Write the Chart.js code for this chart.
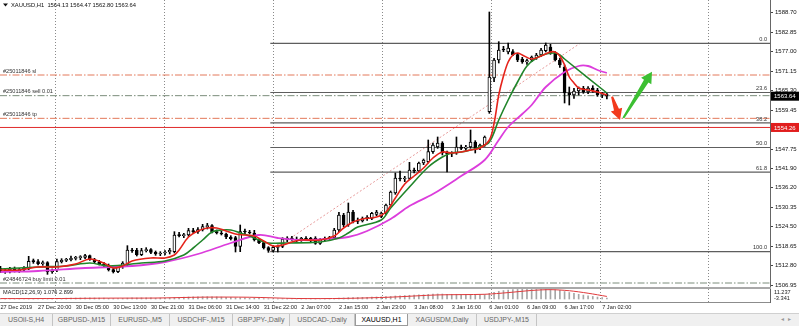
<!DOCTYPE html>
<html>
<head>
<meta charset="utf-8">
<script src="https://cdn.jsdelivr.net/npm/chart.js@4.4.0/dist/chart.umd.min.js"></script>
<style>
body { margin: 0; width: 799px; height: 326px; overflow: hidden; position: relative; background: #fff; font-family: "Liberation Sans", Arial, sans-serif; }
canvas { position: absolute; left: 0; }
#main { top: 0; }
#macd { top: 284px; }
#sep { position: absolute; left: 0; top: 287px; width: 771px; height: 2px; background: #a8a8a8; }
#tabs { position: absolute; left: 0; top: 313px; width: 799px; height: 13px; background: #f0f0f0; border-top: 1px solid #d0d0d0; box-sizing: border-box; }
.tab { position: absolute; top: 0; height: 12px; line-height: 11px; font-size: 7px; color: #666; text-align: center; border-right: 1px solid #c4c4c4; box-sizing: border-box; white-space: nowrap; }
.tab.on { background: #fff; color: #000; border: 1px solid #9a9a9a; border-top: none; }
#nav { position: absolute; right: 4px; top: 1px; font-size: 6px; color: #999; letter-spacing: 4px; }
</style>
</head>
<body>
<canvas id="main" width="799" height="288"></canvas>
<canvas id="macd" width="799" height="29"></canvas>
<div id="sep"></div>
<div id="tabs"><span id="nav">◂▸</span></div>
<script>
// ---- candles (H1), index 0 = 27 Dec 20:00
const firstIdx = -8;
const opens  = [1512.0,1511.2,1511.0,1511.8,1511.3,1511.5,1512.0,1514.1,1514.0,1513.4,1513.7,1511.0,1511.5,1514.0,1514.4,1514.6,1515.0,1515.2,1515.3,1515.8,
  1514.6,1513.9,1513.3,1512.9,1511.6,1511.0,1512.5,1513.0,1517.5,1517.4,1516.1,1517.3,1517.6,1516.8,1516.3,1516.6,1516.9,1517.0,1522.0,1521.8,
  1522.0,1523.3,1523.0,1523.6,1524.5,1524.8,1523.0,1522.6,1522.3,1521.4,1521.2,1518.6,1523.0,1522.9,1522.6,1520.6,1519.7,1518.2,1517.4,1518.3,
  1518.6,1520.5,1521.1,1520.8,1520.5,1521.0,1520.4,1521.0,1519.5,1520.6,1521.0,1521.2,1523.5,1528.0,1525.0,1528.9,1526.1,1526.2,1526.9,1527.0,
  1528.2,1527.6,1528.6,1531.0,1534.6,1539.1,1538.8,1539.0,1541.5,1541.2,1543.6,1544.0,1547.0,1548.4,1549.6,1546.6,1546.3,1546.6,1548.4,1548.0,
  1548.4,1549.9,1548.1,1549.0,1559.0,1569.1,1574.5,1577.8,1576.9,1577.0,1576.1,1574.8,1573.9,1574.5,1575.1,1576.0,1577.3,1578.4,1576.6,1574.5,
  1572.4,1564.6,1564.0,1565.2,1566.0,1564.9,1566.1,1565.5,1564.0,1564.13];
const highs  = [1512.6,1512.0,1512.3,1512.4,1512.0,1512.5,1515.6,1514.8,1514.6,1514.2,1514.0,1511.8,1514.8,1514.9,1515.0,1515.7,1515.6,1515.8,1516.2,1516.0,
  1515.0,1514.4,1513.8,1513.3,1512.0,1512.9,1514.0,1518.8,1518.0,1518.0,1518.0,1518.2,1517.9,1517.2,1517.0,1517.3,1518.0,1523.0,1522.8,1522.5,
  1524.0,1524.0,1524.2,1525.2,1525.5,1525.1,1523.5,1523.2,1522.6,1521.8,1521.6,1525.0,1523.8,1523.4,1523.4,1520.9,1520.0,1518.5,1518.8,1519.0,
  1521.2,1521.5,1521.6,1521.4,1521.3,1521.5,1521.3,1521.5,1520.9,1521.4,1521.6,1524.0,1528.8,1528.5,1531.6,1529.4,1527.1,1527.4,1527.8,1528.8,
  1529.4,1528.9,1531.3,1535.2,1540.6,1541.2,1539.6,1543.8,1542.1,1543.9,1544.8,1550.5,1549.6,1551.4,1550.0,1547.2,1547.0,1551.4,1549.0,1548.9,
  1553.5,1550.3,1549.3,1551.7,1588.9,1575.0,1580.0,1578.6,1579.6,1577.6,1576.5,1575.3,1574.8,1575.7,1576.5,1578.0,1579.6,1579.2,1577.0,1575.0,
  1573.0,1566.4,1566.0,1566.4,1566.6,1566.5,1566.8,1566.0,1564.8,1564.47];
const lows   = [1510.8,1510.5,1510.6,1510.9,1510.8,1511.0,1511.6,1513.5,1513.0,1512.9,1510.2,1510.5,1511.0,1513.6,1514.0,1514.2,1514.5,1514.6,1514.9,1514.4,
  1513.5,1513.0,1512.5,1511.2,1510.6,1510.7,1512.0,1512.8,1516.8,1515.7,1515.8,1516.9,1516.4,1515.9,1515.8,1516.0,1516.3,1516.6,1521.4,1521.2,
  1521.6,1522.4,1522.5,1523.2,1523.8,1522.6,1522.3,1522.0,1520.9,1520.5,1516.9,1517.0,1522.4,1522.3,1520.2,1519.4,1517.8,1516.8,1516.9,1516.9,
  1518.2,1520.0,1520.4,1520.0,1520.1,1520.4,1520.0,1519.2,1519.2,1520.2,1520.5,1520.9,1523.0,1524.5,1524.6,1525.6,1525.4,1525.9,1526.4,1526.6,
  1527.8,1527.2,1528.2,1530.6,1534.2,1538.2,1538.0,1538.6,1540.6,1540.9,1543.1,1543.6,1546.5,1548.0,1546.0,1540.9,1545.5,1546.2,1547.6,1547.4,
  1548.0,1546.6,1547.6,1548.6,1558.5,1568.0,1573.6,1577.0,1576.3,1575.8,1574.0,1573.5,1573.2,1574.0,1574.7,1575.6,1576.9,1576.2,1574.2,1572.3,
  1561.6,1561.0,1563.0,1564.0,1564.5,1564.4,1564.8,1563.6,1563.2,1562.80];
const closes = [1511.2,1511.0,1511.8,1511.3,1511.5,1512.1,1514.1,1514.0,1513.4,1513.7,1511.0,1511.4,1514.0,1514.4,1514.7,1515.0,1515.2,1515.3,1515.8,1514.6,
  1513.9,1513.3,1512.9,1511.6,1511.0,1512.5,1513.6,1517.5,1517.2,1516.1,1517.3,1517.6,1516.8,1516.3,1516.6,1516.9,1517.4,1522.0,1521.8,1522.0,
  1523.3,1523.0,1523.6,1524.5,1524.8,1523.0,1522.6,1522.3,1521.4,1520.9,1518.6,1523.0,1522.9,1522.6,1520.6,1519.7,1518.2,1517.4,1518.3,1518.6,
  1520.8,1521.1,1520.8,1520.5,1521.0,1520.7,1521.0,1519.5,1520.6,1521.0,1521.2,1523.5,1528.0,1525.0,1528.9,1526.1,1526.5,1526.9,1527.3,1528.5,
  1528.9,1528.6,1531.0,1534.9,1539.1,1538.8,1539.0,1541.5,1541.2,1543.6,1544.5,1547.0,1549.0,1549.6,1546.6,1546.3,1546.6,1548.4,1548.0,1548.4,
  1549.9,1548.1,1549.0,1551.4,1569.4,1574.5,1577.5,1577.5,1578.1,1576.1,1574.5,1573.9,1574.3,1575.4,1576.0,1577.5,1579.0,1576.6,1574.5,1573.0,
  1564.6,1564.0,1565.2,1566.0,1564.9,1566.1,1565.5,1564.0,1564.1,1563.64];

// ---- moving averages
const fastIdx = [-8,-4,0,4,8,11,14,16,18,20,24,27,29,30,32,34,36,38,40,42,44,46,48,50,52,54,56,60,63,65,67,69,72,74,76,78,80,82,84,86,88,90,92,94,96,97,98,99,100,101,102,103,105,107,109,110,111,112,113,114,115,117,119,121];
const fastVal = [1511.5,1511.5,1512.4,1512.4,1513.3,1514.8,1513.6,1512.1,1512.7,1514.2,1515.1,1515.1,1516.0,1517.5,1521.4,1523.2,1524.1,1524.1,1523.2,1522.3,1522.0,1521.7,1520.2,1518.7,1519.0,1519.9,1520.5,1520.5,1521.7,1524.1,1525.9,1526.8,1527.4,1528.9,1533.1,1537.3,1539.7,1542.1,1545.1,1546.9,1546.6,1546.9,1547.5,1548.1,1550.5,1555.5,1564.0,1569.7,1573.9,1576.0,1576.6,1576.0,1574.8,1575.7,1576.9,1576.9,1575.7,1573.0,1569.4,1567.6,1566.1,1565.5,1564.9,1564.0];
const midIdx = [-8,0,6,11,15,22,27,31,33,35,37,39,41,43,45,47,49,53,60,64,66,68,73,75,79,83,86,88,90,92,94,96,98,100,102,104,106,108,110,111,112,121];
const midVal = [1511.8,1512.4,1512.7,1513.6,1512.7,1513.6,1514.2,1516.0,1518.1,1520.5,1522.9,1523.5,1523.5,1522.6,1521.7,1520.5,1519.6,1519.6,1519.9,1521.1,1522.6,1524.4,1526.5,1530.1,1536.4,1542.4,1545.4,1546.6,1546.9,1547.5,1548.4,1549.9,1556.5,1562.5,1567.9,1572.7,1575.1,1576.3,1576.6,1576.0,1574.8,1564.6];
const slowIdx = [-8,0,10,20,27,34,41,47,51,56,61,66,70,75,79,84,90,95,98,100,103,105,108,112,115,117,119,121];
const slowVal = [1510.9,1511.2,1512.1,1512.7,1513.9,1516.3,1519.6,1522.0,1521.1,1520.5,1520.8,1521.4,1523.2,1526.8,1530.7,1534.3,1539.7,1544.5,1550.5,1554.4,1558.3,1561.0,1566.4,1570.9,1572.7,1572.7,1571.5,1570.6];

// ---- MACD(12,26,9)
const macdMain = [0.4,0.3,0.3,0.2,0.2,0.3,0.6,0.7, 0.7,0.7,0.5,0.4,0.6,0.8,0.9,1.0, 1.1,1.2,1.3,1.3,1.2,1.1,1.0,0.8,
  0.6,0.6,0.7,1.0,1.2,1.2,1.3,1.3, 1.2,1.1,1.1,1.1,1.1,1.6,1.9,2.1, 2.3,2.4,2.5,2.6,2.6,2.5,2.4,2.2,
  2.0,1.8,1.4,1.4,1.3,1.2,1.0,0.8, 0.5,0.3,0.2,0.2,0.3,0.4,0.4,0.4, 0.4,0.4,0.4,0.3,0.3,0.3,0.4,0.6,
  1.1,1.2,1.6,1.7,1.8,1.9,2.0,2.2, 2.3,2.4,2.6,2.9,3.4,3.7,3.9,4.2, 4.4,4.6,4.8,5.2,5.5,5.7,5.6,5.4,
  5.3,5.3,5.2,5.2,5.2,5.1,5.0,5.1, 6.4,7.6,8.7,9.5,10.1,10.5,10.8,10.9, 10.9,10.8,10.8,10.9,11.0,10.8,10.3,9.7,
  8.4,7.3,6.3,5.3,4.4,3.6,2.9,2.2, 1.6,1.076];
const signalIdx = [-8,5,15,25,35,45,55,65,75,85,95,100,105,109,113,117,121];
const signalVal = [0.5,0.6,1.0,1.1,2.1,2.0,0.6,0.7,2.1,4.6,5.3,7.2,9.6,10.5,9.3,6.5,2.899];
const macdMax = 11.237, macdMin = -3.341;

// ---- axes
const priceTicks = [1588.70,1582.85,1577.00,1571.15,1565.30,1559.45,1547.75,1541.90,1536.20,1530.35,1524.50,1518.65,1512.80,1506.95];
const timeIdx = [-8,0,8,16,24,32,40,48,56,64,72,80,88,96,104,112,120];
const timeLabels = ['27 Dec 2019','27 Dec 20:00','30 Dec 05:00','30 Dec 13:00','30 Dec 21:00','31 Dec 06:00','31 Dec 14:00','31 Dec 22:00',
  '2 Jan 07:00','2 Jan 15:00','2 Jan 23:00','3 Jan 08:00','3 Jan 16:00','6 Jan 01:00','6 Jan 09:00','6 Jan 17:00','7 Jan 02:00'];
const gridIdx = [3.6,26.8,50.0,73.2,96.4,119.6,142.6];

// ---- objects on the chart
const fibLevels = [0, 23.6, 38.2, 50, 61.8, 100];
const fibHigh = 1579.5, fibLow = 1517.0, fibFromIdx = 49.4, fibToIdx = 115.3;
const orderNames = ['#25011846 sl', '#25011846 sell 0.01', '#25011846 tp', '#24846724 buy limit 0.01'];
const orderPrices = [1570.0, 1563.8, 1557.0, 1507.6];
const alertPrice = 1554.26;
const title = 'XAUUSD,H1  1564.13 1564.47 1562.80 1563.64';
const arrowIdx = [[122.1, 123.8], [124.5, 130.6]];
const arrowPrice = [[1563.5, 1556.5], [1557.1, 1571.0]];
const tabNames = ['USOil-S,H4','GBPUSD-,M15','EURUSD-,M5','USDCHF-,M15','GBPJPY-,Daily','USDCAD-,Daily','XAUUSD,H1','XAGUSDM,Daily','USDJPY-,M15'];

// layout / style (not data)
const xMin = -8.1, xMax = 155.7;
const tabEdges = [0,53,111,170,233,290,355,408,477,537];
const orderColors = ['#e3795a', '#7b8c7b', '#e3795a', '#7b8c7b'];
const arrowColors = ['#f2391c', '#3cbf32'];
const FONT = '"Liberation Sans", Arial, sans-serif';
Chart.defaults.font.family = FONT;

const pts = (xs, ys) => xs.map((v, k) => ({ x: v, y: ys[k] }));
const fibPrice = lv => fibHigh - lv / 100 * (fibHigh - fibLow);

const wicks = opens.map((o, k) => ({ x: firstIdx + k, y: [lows[k], highs[k]] }));
const bodies = opens.map((o, k) => ({ x: firstIdx + k, y: [o, closes[k]] }));
const bodyFill = opens.map((o, k) => closes[k] >= o ? '#ffffff' : '#000000');

const hline = (x0, p, color, dash, width, order) => ({
  type: 'line', data: [{ x: x0, y: p }, { x: xMax, y: p }], borderColor: color, borderDash: dash,
  borderWidth: width, pointRadius: 0, order: order
});

function drawArrow(ctx, x0, y0, x1, y1, color) {
  const dx = x1 - x0, dy = y1 - y0, len = Math.hypot(dx, dy);
  const ux = dx / len, uy = dy / len, nx = -uy, ny = ux;
  const head = 11, hw = 6, w0 = 1, w1 = 2.6;
  const bx = x1 - ux * head, by = y1 - uy * head;
  ctx.beginPath();
  ctx.moveTo(x0 + nx * w0, y0 + ny * w0);
  ctx.lineTo(bx + nx * w1, by + ny * w1);
  ctx.lineTo(bx + nx * hw, by + ny * hw);
  ctx.lineTo(x1, y1);
  ctx.lineTo(bx - nx * hw, by - ny * hw);
  ctx.lineTo(bx - nx * w1, by - ny * w1);
  ctx.lineTo(x0 - nx * w0, y0 - ny * w0);
  ctx.closePath();
  ctx.fillStyle = color;
  ctx.fill();
}

// texts, arrows and price boxes of the main window
const overlay = {
  id: 'overlay',
  afterDatasetsDraw(chart) {
    const { ctx, scales: { x, y }, chartArea } = chart;
    ctx.save();
    ctx.font = '5.6px ' + FONT;
    ctx.fillStyle = '#333';
    ctx.textBaseline = 'bottom';
    ctx.textAlign = 'left';
    orderNames.forEach((n, k) => ctx.fillText(n, 3, y.getPixelForValue(orderPrices[k]) - 1));
    ctx.textAlign = 'right';
    fibLevels.forEach(lv => ctx.fillText(lv.toFixed(1), chartArea.right - 3, y.getPixelForValue(fibPrice(lv)) - 1));
    arrowIdx.forEach((xs, k) => drawArrow(ctx,
      x.getPixelForValue(xs[0]), y.getPixelForValue(arrowPrice[k][0]),
      x.getPixelForValue(xs[1]), y.getPixelForValue(arrowPrice[k][1]), arrowColors[k]));
    // title
    ctx.fillStyle = '#111';
    ctx.beginPath();
    ctx.moveTo(3, 3.5); ctx.lineTo(8, 3.5); ctx.lineTo(5.5, 6.5); ctx.closePath(); ctx.fill();
    ctx.textAlign = 'left';
    ctx.textBaseline = 'middle';
    ctx.font = '5.8px ' + FONT;
    ctx.fillText(title, 11, 5);
    ctx.restore();
  },
  afterDraw(chart) {
    const { ctx, scales: { y }, chartArea } = chart;
    ctx.save();
    ctx.font = '6px ' + FONT;
    ctx.textBaseline = 'middle';
    ctx.textAlign = 'left';
    const boxes = [[closes[closes.length - 1], '#000000'], [alertPrice, '#e11d1d']];
    boxes.forEach(([p, c]) => {
      const py = y.getPixelForValue(p);
      ctx.fillStyle = c;
      ctx.fillRect(chartArea.right + 1, py - 4.5, 28, 9);
      ctx.fillStyle = '#fff';
      ctx.fillText(p.toFixed(2), chartArea.right + 4, py + 0.5);
    });
    ctx.restore();
  }
};

const levelSets = [
  ...fibLevels.map(lv => hline(fibFromIdx, fibPrice(lv), '#5e5e5e', [], 1.2, 6)),
  ...orderPrices.map((p, k) => hline(xMin, p, orderColors[k], [7, 2, 1.5, 2], 1, 6)),
  hline(xMin, alertPrice, '#e02a2a', [], 1, 6),
  { type: 'line', data: pts([fibFromIdx, fibToIdx], [fibLow, fibHigh]), borderColor: '#e79a9a', borderDash: [2, 2],
    borderWidth: 1, pointRadius: 0, order: 6 }
];

new Chart(document.getElementById('main'), {
  type: 'bar',
  data: {
    datasets: [
      { type: 'line', data: pts(fastIdx, fastVal), borderColor: '#e5231b', borderWidth: 1.6, pointRadius: 0, tension: 0.35, order: 1 },
      { type: 'line', data: pts(midIdx, midVal), borderColor: '#20852a', borderWidth: 1.6, pointRadius: 0, tension: 0.35, order: 1 },
      { type: 'line', data: pts(slowIdx, slowVal), borderColor: '#dc3ddc', borderWidth: 1.8, pointRadius: 0, tension: 0.35, order: 1 },
      { type: 'bar', data: bodies, backgroundColor: bodyFill, borderColor: '#000', borderWidth: 1, borderSkipped: false,
        barThickness: 3, grouped: false, minBarLength: 1, order: 2 },
      { type: 'bar', data: wicks, backgroundColor: '#000', barThickness: 1, grouped: false, order: 3 },
      ...levelSets
    ]
  },
  options: {
    responsive: false,
    animation: false,
    devicePixelRatio: 1,
    events: [],
    layout: { padding: 0 },
    plugins: { legend: { display: false }, tooltip: { enabled: false } },
    scales: {
      x: {
        type: 'linear', min: xMin, max: xMax, offset: false,
        afterBuildTicks: s => { s.ticks = gridIdx.map(v => ({ value: v })); },
        grid: { offset: false, color: '#8a8a8a', drawTicks: false },
        border: { display: false, dash: [1, 2] },
        ticks: { display: false },
        afterFit: s => { s.height = 0; s.paddingLeft = 0; s.paddingRight = 0; }
      },
      y: {
        position: 'right', min: 1506.1, max: 1592.5,
        afterBuildTicks: s => { s.ticks = priceTicks.map(v => ({ value: v })); },
        ticks: { autoSkip: false, padding: 2, color: '#111', font: { size: 6 }, callback: (v, k) => priceTicks[k].toFixed(2) },
        grid: { drawOnChartArea: false, drawTicks: true, tickLength: 3, color: '#444' },
        border: { color: '#666' },
        afterFit: s => { s.width = 29; s.paddingTop = 0; s.paddingBottom = 0; }
      }
    }
  },
  plugins: [overlay]
});

// MACD sub-window and time axis
const macdText = {
  id: 'macdText',
  afterDraw(chart) {
    const { ctx, scales: { y }, chartArea } = chart;
    ctx.save();
    ctx.font = '5.6px ' + FONT;
    ctx.fillStyle = '#222';
    ctx.textBaseline = 'top';
    ctx.textAlign = 'left';
    ctx.fillText('MACD(12,26,9) ' + macdMain[macdMain.length - 1].toFixed(3) + ' ' + signalVal[signalVal.length - 1].toFixed(3), 3, chartArea.top + 1);
    ctx.fillText(macdMax.toFixed(3), chartArea.right + 4, y.getPixelForValue(macdMax) + 1);
    ctx.textBaseline = 'bottom';
    ctx.fillText(macdMin.toFixed(3), chartArea.right + 4, y.getPixelForValue(macdMin) - 0.5);
    ctx.restore();
  }
};

new Chart(document.getElementById('macd'), {
  type: 'bar',
  data: {
    datasets: [
      { type: 'line', xAxisID: 'x', data: pts(signalIdx, signalVal), borderColor: '#e0393b', borderWidth: 1, pointRadius: 0, tension: 0.3, order: 1 },
      { type: 'bar', xAxisID: 'x', data: macdMain.map((v, k) => ({ x: firstIdx + k, y: v })), backgroundColor: '#a6a6a6',
        barThickness: 1, grouped: false, order: 2 }
    ]
  },
  options: {
    responsive: false,
    animation: false,
    devicePixelRatio: 1,
    events: [],
    layout: { padding: { top: 5 } },
    plugins: { legend: { display: false }, tooltip: { enabled: false } },
    scales: {
      x: {
        type: 'linear', min: xMin, max: xMax, offset: false,
        afterBuildTicks: s => { s.ticks = gridIdx.map(v => ({ value: v })); },
        grid: { offset: false, color: '#8a8a8a', drawTicks: false },
        border: { display: false, dash: [1, 2] },
        ticks: { display: false },
        afterFit: s => { s.height = 0; s.paddingLeft = 0; s.paddingRight = 0; }
      },
      xt: {
        type: 'linear', position: 'bottom', min: xMin, max: xMax, offset: false,
        afterBuildTicks: s => { s.ticks = timeIdx.map(v => ({ value: v })); },
        grid: { display: false, offset: false, drawTicks: false },
        border: { display: true, color: '#8c8c8c' },
        ticks: { autoSkip: false, maxRotation: 0, minRotation: 0, align: 'start', padding: 2, color: '#222',
          font: { size: 5.6 }, callback: (v, k) => timeLabels[k] },
        afterFit: s => { s.height = 11; s.paddingLeft = 0; s.paddingRight = 0; }
      },
      y: {
        position: 'right', min: macdMin, max: macdMax,
        ticks: { display: false },
        grid: { display: false },
        border: { color: '#666' },
        afterFit: s => { s.width = 29; s.paddingTop = 0; s.paddingBottom = 0; }
      }
    }
  },
  plugins: [macdText]
});

// terminal tabs
const tabs = document.getElementById('tabs');
tabNames.forEach((n, k) => {
  const d = document.createElement('div');
  d.className = 'tab' + (n === 'XAUUSD,H1' ? ' on' : '');
  d.style.left = tabEdges[k] + 'px';
  d.style.width = (tabEdges[k + 1] - tabEdges[k]) + 'px';
  d.textContent = n;
  tabs.appendChild(d);
});
</script>
</body>
</html>
